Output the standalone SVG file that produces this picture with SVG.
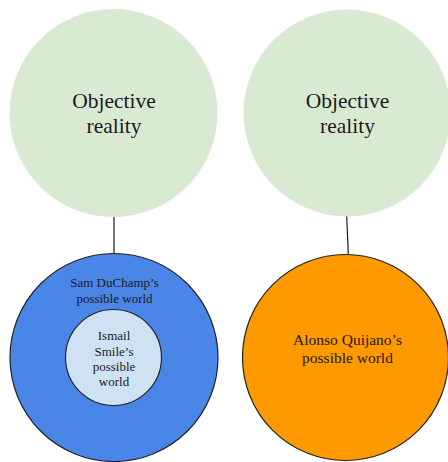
<svg xmlns="http://www.w3.org/2000/svg" width="448" height="462" viewBox="0 0 448 462">
<style>
text{font-family:"Liberation Serif","Times New Roman",serif;fill:#1a1a1a;text-anchor:middle}
.big{font-size:21.5px}
.sm{font-size:13px}
.md{font-size:15.5px}
.ln{stroke:#1a1a1a;stroke-width:1.2;fill:none}
.st{stroke:#222;stroke-width:1.2}
</style>
<rect width="448" height="462" fill="#ffffff"/>
<g id="connectors">
<line class="ln" x1="114" y1="216" x2="114" y2="254"/>
<line class="ln" x1="346.7" y1="216" x2="348.3" y2="254"/>
</g>
<g id="objective-left">
<circle cx="113.5" cy="113" r="104" fill="#d9ead3"/>
<text class="big" x="114" y="108">Objective</text>
<text class="big" x="114" y="133">reality</text>
</g>
<g id="objective-right">
<circle cx="347" cy="113" r="103.5" fill="#d9ead3"/>
<text class="big" x="347.5" y="108">Objective</text>
<text class="big" x="347.5" y="133">reality</text>
</g>
<g id="sam">
<circle class="st" cx="114" cy="357.5" r="104" fill="#4a86e8"/>
<text class="sm" x="114.5" y="287">Sam DuChamp’s</text>
<text class="sm" x="114.5" y="303">possible world</text>
</g>
<g id="ismail">
<circle class="st" cx="113.5" cy="357.5" r="48" fill="#cfe2f3"/>
<text class="sm" x="114" y="340" fill="#333">Ismail</text>
<text class="sm" x="114" y="356">Smile’s</text>
<text class="sm" x="114" y="371">possible</text>
<text class="sm" x="114" y="386">world</text>
</g>
<g id="alonso">
<circle class="st" cx="345.5" cy="357.5" r="103" fill="#ff9900"/>
<text class="md" x="347.5" y="345">Alonso Quijano’s</text>
<text class="md" x="347.5" y="363">possible world</text>
</g>
</svg>
